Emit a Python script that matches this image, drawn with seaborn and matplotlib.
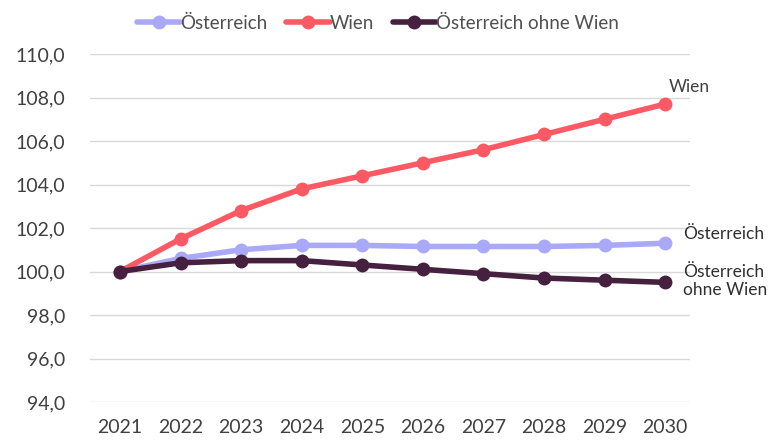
import matplotlib
matplotlib.use("Agg")
import matplotlib.pyplot as plt
import seaborn as sns
import pandas as pd

years = [2021, 2022, 2023, 2024, 2025, 2026, 2027, 2028, 2029, 2030]
oesterreich = [100.0, 100.6, 101.0, 101.2, 101.2, 101.15, 101.15, 101.15, 101.2, 101.3]
wien = [100.0, 101.5, 102.8, 103.8, 104.4, 105.0, 105.6, 106.3, 107.0, 107.7]
ohne_wien = [100.0, 100.4, 100.5, 100.5, 100.3, 100.1, 99.9, 99.7, 99.6, 99.5]
series_names = ["Österreich", "Wien", "Österreich ohne Wien"]
colors = ["#a9a9f8", "#fb5a64", "#45203f"]
yticks = [94, 96, 98, 100, 102, 104, 106, 108, 110]

df = pd.DataFrame({
    "Jahr": years * 3,
    "Wert": oesterreich + wien + ohne_wien,
    "Reihe": [series_names[0]] * 10 + [series_names[1]] * 10 + [series_names[2]] * 10,
})

sns.set_theme(style="white")
plt.rcParams["font.family"] = ["Lato", "DejaVu Sans"]

fig = plt.figure(figsize=(7.78, 4.42), dpi=100)
ax = fig.add_axes([0.1157, 0.0905, 0.7713, 0.7873])

sns.lineplot(data=df, x="Jahr", y="Wert", hue="Reihe", hue_order=series_names,
             palette=colors, marker="o", markersize=10, markeredgewidth=0,
             linewidth=4, ax=ax, legend=True)

ax.set_ylim(94, 110)
ax.set_xlim(2020.505, 2030.41)
ax.set_yticks(yticks)
ax.set_yticklabels([f"{v:.1f}".replace(".", ",") for v in yticks])
ax.set_xticks(years)
ax.set_xticklabels([str(y) for y in years])
ax.grid(axis="y", color="#d9d9d9", linewidth=1)
ax.set_axisbelow(True)
for s in ax.spines.values():
    s.set_visible(False)
ax.tick_params(axis="both", length=0, labelsize=14, colors="#404040")
ax.tick_params(axis="y", pad=18)
ax.tick_params(axis="x", pad=12)
ax.set_xlabel("")
ax.set_ylabel("")

ax.legend(loc="lower center", bbox_to_anchor=(0.48, 1.015), ncol=3, frameon=False,
          fontsize=13.5, handlelength=2.3, handletextpad=0.0, columnspacing=1.0,
          labelcolor="#505050")

ax.text(2030.05, 108.5, "Wien", fontsize=12.5, color="#404040", va="center",
        clip_on=False)
ax.text(2030.3, 101.72, "Österreich", fontsize=12.5, color="#303030", va="center",
        clip_on=False)
ax.text(2030.3, 99.56, "Österreich\nohne Wien", fontsize=12.5, color="#303030",
        va="center", clip_on=False, linespacing=1.15)

fig.savefig("out.png", dpi=100)
